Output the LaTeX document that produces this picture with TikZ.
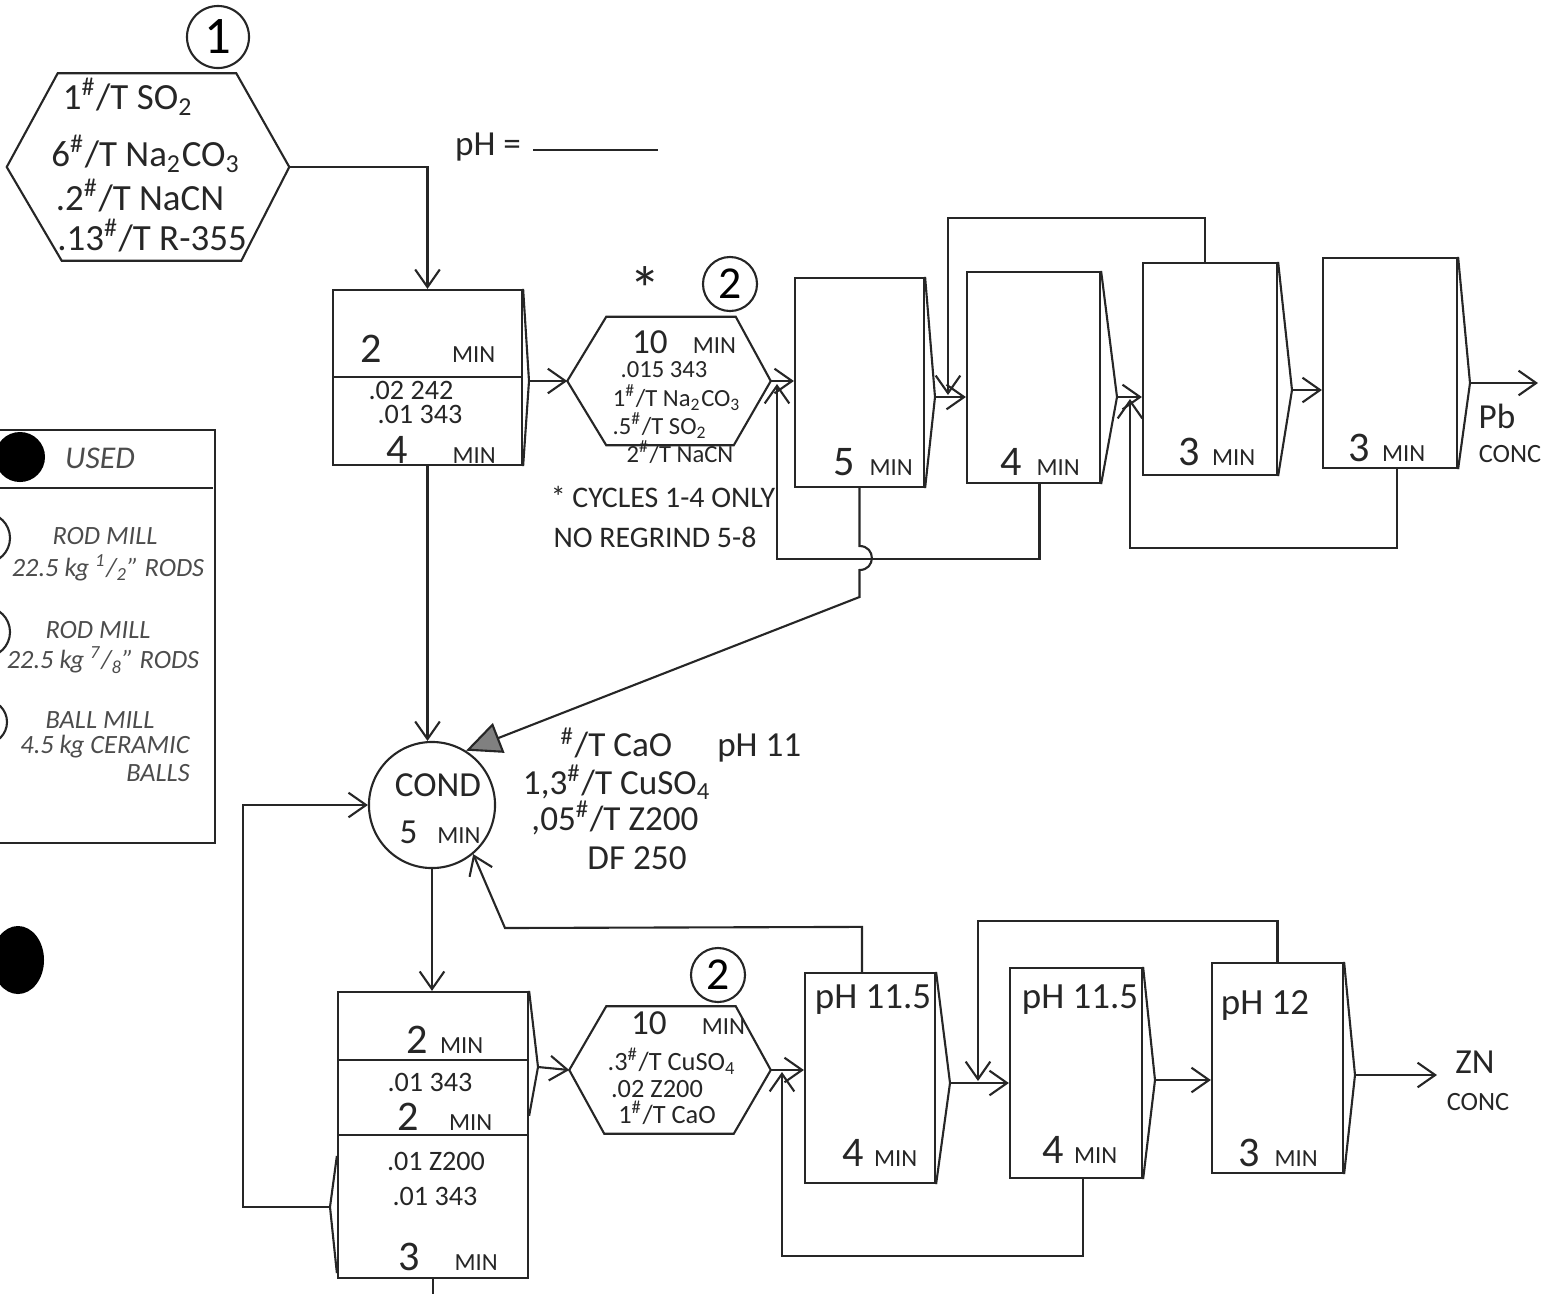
\documentclass[tikz,border=0pt]{standalone}
\usepackage{fontspec}
\setmainfont{Carlito}
\usetikzlibrary{arrows.meta,calc}
\newcommand\bignum[1]{{\fontsize{12}{13}\selectfont #1}}
\newcommand\midnum[1]{{\fontsize{10}{11}\selectfont #1}}
\newcommand\minu{{\fontsize{7}{8}\selectfont MIN}}
\newcommand\pnd{\textsuperscript{\#}/T}
\begin{document}
\begin{tikzpicture}[x=0.01cm,y=-0.01cm,
  ink/.style={draw=black!85,line width=0.6pt},
  arr/.style={ink,-{Straight Barb[length=5pt,width=7pt]}},
  farr/.style={ink,-{Triangle[length=10pt,width=9pt,fill=black!50]}},
  box/.style={ink,rectangle,inner sep=0pt},
  hexbox/.style={rectangle,inner sep=0pt},
  tx/.style={inner sep=0pt,text=black!85,font=\fontsize{10}{12}\selectfont},
  tm/.style={inner sep=0pt,text=black!85,font=\fontsize{8}{10}\selectfont,text height=1.5ex,text depth=0.2ex},
  tb/.style={inner sep=0pt,text=black!85,font=\fontsize{10.5}{12}\selectfont},
  ts/.style={inner sep=0pt,text=black!85,font=\fontsize{7.5}{9}\selectfont,text height=1.5ex,text depth=0.2ex},
  th/.style={inner sep=0pt,text=black!85,font=\fontsize{7}{8}\selectfont,text height=1.5ex,text depth=0.2ex},
  tn/.style={inner sep=0pt,text=black!85,font=\fontsize{8.5}{10}\selectfont},
  tl/.style={inner sep=0pt,text=black!70,font=\itshape\fontsize{7.5}{9}\selectfont},
  ring/.style={ink,circle,inner sep=0pt},
]
\path[use as bounding box] (0,0) rectangle (1554,1293);
\clip (0,0) rectangle (1554,1293);

% ---------------- legend (cut at the left edge)
\node[box,minimum width=2.50cm,minimum height=4.13cm] (legend) at (90,636.5) {};
\draw[ink] (-35,488) -- (213,488);
\draw[ink] (-15,538) circle[radius=0.25cm];
\draw[ink] (-15,632) circle[radius=0.25cm];
\draw[ink] (-15,722) circle[radius=0.22cm];
\node[tl,font=\itshape\fontsize{9}{10}\selectfont] (lg0) at (100,458) {USED};
\node[tl] (lg1) at (105,536) {ROD MILL};
\node[tl] (lg2) at (108,568) {22.5 kg \textsuperscript{1}/\textsubscript{2}'' RODS};
\node[tl] (lg3) at (98,630) {ROD MILL};
\node[tl] (lg4) at (103,660) {22.5 kg \textsuperscript{7}/\textsubscript{8}'' RODS};
\node[tl] (lg5) at (100,720) {BALL MILL};
\node[tl] (lg6) at (105,747) {4.5 kg CERAMIC};
\node[tl] (lg7) at (158,773) {BALLS};
\fill[black] (20,457) circle[radius=0.25cm];
\fill[black] (18,960) ellipse[x radius=0.26cm,y radius=0.34cm];

% ---------------- reagent hexagon 1
\node[ring,minimum size=0.62cm,font=\fontsize{15}{15}\selectfont] (c1) at (218,37) {1};
\node[hexbox,minimum width=2.81cm,minimum height=1.86cm] (hex1) at (148,167) {};
\draw[ink] (hex1.west) -- ($(hex1.north west)+(51,0)$) -- ($(hex1.north east)+(-53,0)$)
  -- (hex1.east) -- ($(hex1.south east)+(-48,0)$) -- ($(hex1.south west)+(55,0)$) -- cycle;
\node[tb] (h1a) at (128,97) {1\pnd\ SO\textsubscript{2}};
\node[tb] (h1b) at (146,154) {6\pnd\ Na\textsubscript{2}CO\textsubscript{3}};
\node[tb] (h1c) at (140,196) {.2\pnd\ NaCN};
\node[tb] (h1d) at (152,236) {.13\pnd\ R-355};

\node[tx] (phq) at (488,147) {pH =};
\draw[ink] (533,150) -- (658,150);

% ---------------- Pb conditioner
\node[box,minimum width=1.89cm,minimum height=1.75cm] (box1) at (427.5,377.5) {};
\draw[ink] (333,377) -- (522,377);
\coordinate (b1lip) at (529,381);
\draw[ink] (box1.north east) -- (b1lip) -- (box1.south east);
\node[tx] (b1a) at (428,349) {\bignum{2}\hspace{0.7cm}\minu};
\node[tm] (b1b) at (411,389) {.02 242};
\node[tm] (b1c) at (420,413) {.01 343};
\node[tx] (b1d) at (441,450) {\bignum{4}\hspace{0.45cm}\minu};

% ---------------- regrind hexagon 2
\node[tx,font=\fontsize{18}{18}\selectfont] (star) at (645,289) {*};
\node[ring,minimum size=0.54cm,font=\fontsize{13}{13}\selectfont] (c2a) at (730,284) {2};
\node[hexbox,minimum width=2.02cm,minimum height=1.27cm] (hex2) at (669,381) {};
\draw[ink] (hex2.west) -- ($(hex2.north west)+(39,0)$) -- ($(hex2.north east)+(-35,0)$)
  -- (hex2.east) -- ($(hex2.south east)+(-37,0)$) -- ($(hex2.south west)+(39,0)$) -- cycle;
\node[th] (h2a) at (684,343) {\midnum{10}\hspace{0.25cm}\minu};
\node[th] (h2b) at (664,367) {.015 343};
\node[th] (h2c) at (677,396) {1\pnd\ Na\textsubscript{2}CO\textsubscript{3}};
\node[th] (h2d) at (660,424) {.5\pnd\ SO\textsubscript{2}};
\node[th] (h2e) at (680,452) {2\pnd\ NaCN};
\node[tn] (n1) at (663,497) {* CYCLES 1-4 ONLY};
\node[tn] (n2) at (655,537) {NO REGRIND 5-8};

% ---------------- Pb rougher / cleaner cells
\node[box,minimum width=1.29cm,minimum height=2.09cm] (A) at (859.5,382.5) {};
\node[box,minimum width=1.33cm,minimum height=2.11cm] (B) at (1033.5,377.5) {};
\node[box,minimum width=1.34cm,minimum height=2.12cm] (C) at (1210,369) {};
\node[box,minimum width=1.34cm,minimum height=2.10cm] (D) at (1390,363) {};
\coordinate (Alip) at (935,397);
\coordinate (Blip) at (1117,397);
\coordinate (Clip) at (1292,390);
\coordinate (Dlip) at (1470,383);
\draw[ink] (A.north east) -- (Alip) -- (A.south east);
\draw[ink] (B.north east) -- (Blip) -- (B.south east);
\draw[ink] (C.north east) -- (Clip) -- (C.south east);
\draw[ink] (D.north east) -- (Dlip) -- (D.south east);
\node[tx] (At) at (873,462) {\bignum{5}\hspace{0.15cm}\minu};
\node[tx] (Bt) at (1040,462) {\bignum{4}\hspace{0.15cm}\minu};
\node[tx] (Ct) at (1217,452) {\bignum{3}\hspace{0.12cm}\minu};
\node[tx] (Dt) at (1387,448) {\bignum{3}\hspace{0.12cm}\minu};
\node[tx] (pb) at (1497,416) {Pb};
\node[ts] (pbc) at (1510,452) {CONC};
\coordinate (pbend) at (1538,383);

\draw[arr] (hex2.east) -- (hex2.east -| A.west);
\draw[arr] (Alip) -- (Alip -| B.west);
\draw[arr] (Blip) -- (Blip -| C.west);
\draw[arr] (Clip) -- (Clip -| D.west);
\draw[arr] (Dlip) -- (pbend);

\coordinate (jB) at (948,395);
\draw[arr] ($(C.north)+(-5,0)$) -- ++(0,-44) -| (jB);
\coordinate (jA) at (777,384);
\draw[arr] ($(B.south)+(6,0)$) -- ++(0,75) -| (jA);
\coordinate (jC) at (1130,399);
\draw[arr] ($(D.south)+(7,0)$) -- ++(0,79) -| (jC);

% ---------------- conditioner
\node[ring,minimum size=1.26cm] (COND) at (432,805) {};
\node[tx] (ct1) at (438,785) {COND};
\node[tx] (ct2) at (440,832) {5\hspace{0.2cm}\minu};
\node[tx,anchor=west] (ca1) at (560,745) {\pnd\ CaO\hspace{0.45cm}pH 11};
\node[tx] (ca2) at (617,782) {1,3\pnd\ CuSO\textsubscript{4}};
\node[tx] (ca3) at (615,818) {,05\pnd\ Z200};
\node[tx] (ca4) at (637,858) {DF 250};

\draw[arr] (hex1.east) -| (box1.north);
\draw[arr] (b1lip) -- (b1lip -| hex2.west);
\draw[arr] (box1.south) -- (box1.south |- COND.north);
\draw[farr] (A.south) -- (859.5,546) .. controls (876,546) and (876,570) .. (859.5,570)
  -- (859.5,597) -- (COND.58);

% ---------------- Zn conditioner
\node[box,minimum width=1.90cm,minimum height=2.86cm] (box2) at (433,1135) {};
\draw[ink] (338,1060) -- (528,1060);
\draw[ink] (338,1135) -- (528,1135);
\coordinate (b2lip) at (538,1067);
\draw[ink] (box2.north east) -- (b2lip) -- ($(box2.north east)+(0,125)$);
\coordinate (b2llip) at (330,1207);
\draw[ink] ($(box2.north west)+(0,165)$) -- (b2llip) -- ($(box2.south west)+(0,-6)$);
\node[tx] (b2a) at (445,1040) {\bignum{2}\hspace{0.12cm}\minu};
\node[tm] (b2b) at (430,1081) {.01 343};
\node[tx] (b2c) at (445,1117) {\bignum{2}\hspace{0.3cm}\minu};
\node[tm] (b2d) at (436,1160) {.01 Z200};
\node[tm] (b2e) at (435,1195) {.01 343};
\node[tx] (b2f) at (448,1257) {\bignum{3}\hspace{0.35cm}\minu};
\coordinate (tailend) at (437,1300);

\draw[arr] (COND.south) -- (COND.south |- box2.north);
\draw[arr] (b2llip) -- ++(-87,0) |- (COND.west);
\draw[ink] (box2.south) -- (box2.south |- tailend);

% ---------------- regrind hexagon 3
\node[ring,minimum size=0.54cm,font=\fontsize{13}{13}\selectfont] (c2b) at (718,975) {2};
\node[hexbox,minimum width=2.00cm,minimum height=1.26cm] (hex3) at (670,1070) {};
\draw[ink] (hex3.west) -- ($(hex3.north west)+(37,0)$) -- ($(hex3.north east)+(-35,0)$)
  -- (hex3.east) -- ($(hex3.south east)+(-37,0)$) -- ($(hex3.south west)+(35,0)$) -- cycle;
\node[ts] (h3a) at (688,1024) {\midnum{10}\hspace{0.35cm}\minu};
\node[ts] (h3b) at (672,1060) {.3\pnd\ CuSO\textsubscript{4}};
\node[ts] (h3c) at (657,1087) {.02 Z200};
\node[ts] (h3d) at (667,1113) {1\pnd\ CaO};
\draw[arr] (b2lip) -- (hex3.west);

% ---------------- Zn cells
\node[box,minimum width=1.30cm,minimum height=2.10cm] (E) at (870,1078) {};
\node[box,minimum width=1.32cm,minimum height=2.10cm] (F) at (1076,1073) {};
\node[box,minimum width=1.31cm,minimum height=2.10cm] (G) at (1277.5,1068) {};
\coordinate (Elip) at (950,1083);
\coordinate (Flip) at (1155,1080);
\coordinate (Glip) at (1355,1075);
\draw[ink] (E.north east) -- (Elip) -- (E.south east);
\draw[ink] (F.north east) -- (Flip) -- (F.south east);
\draw[ink] (G.north east) -- (Glip) -- (G.south east);
\node[tb] (Et1) at (873,1000) {pH 11.5};
\node[tx] (Et2) at (880,1153) {\bignum{4}\hspace{0.1cm}\minu};
\node[tb] (Ft1) at (1080,1000) {pH 11.5};
\node[tx] (Ft2) at (1080,1150) {\bignum{4}\hspace{0.1cm}\minu};
\node[tb] (Gt1) at (1265,1005) {pH 12};
\node[tx] (Gt2) at (1278,1153) {\bignum{3}\hspace{0.15cm}\minu};
\node[tx] (zn) at (1475,1062) {ZN};
\node[ts] (znc) at (1478,1100) {CONC};
\coordinate (znend) at (1437,1075);

\draw[arr] (hex3.east) -- (hex3.east -| E.west);
\draw[arr] (Elip) -- (Elip -| F.west);
\draw[arr] (Flip) -- (Flip -| G.west);
\draw[arr] (Glip) -- (znend);

\coordinate (jF) at (978,1081);
\draw[arr] (G.north) -- ++(0,-41) -| (jF);
\coordinate (jE) at (782,1072);
\draw[arr] ($(F.south)+(7,0)$) -- ++(0,77) -| (jE);
\draw[arr] ($(E.north)+(-8,0)$) -- ++(0,-45) -- (505,928) -- (COND.-50);
\end{tikzpicture}
\end{document}
